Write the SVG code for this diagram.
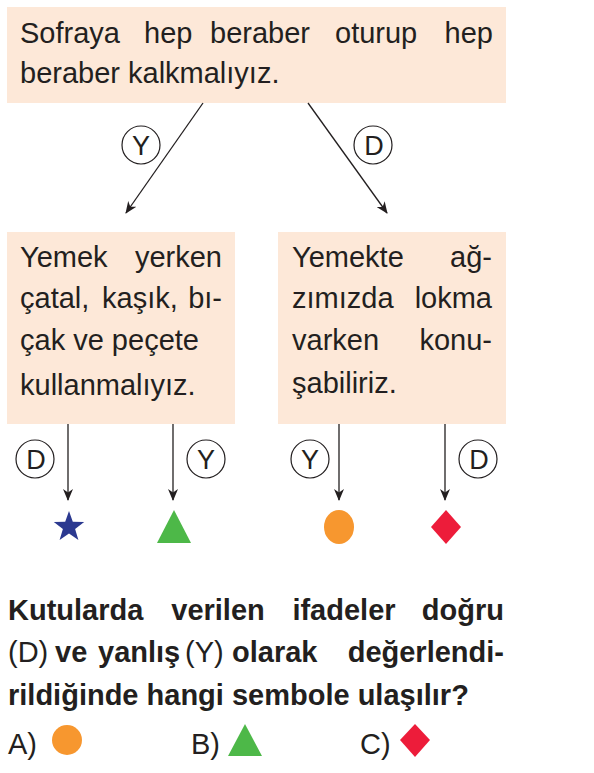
<svg xmlns="http://www.w3.org/2000/svg" width="594" height="773" viewBox="0 0 594 773">
<style>
.box{fill:#fde8d8}
.t{font-family:"Liberation Sans",Arial,sans-serif;font-size:29px;fill:#231f20}
.q{font-family:"Liberation Sans",Arial,sans-serif;font-size:29px;fill:#231f20;font-weight:bold}
.qr{font-weight:normal}
.e{text-anchor:end}
.m{text-anchor:middle}
.lbl{fill:#fff;stroke:#231f20;stroke-width:1.2}
.lt{font-family:"Liberation Sans",Arial,sans-serif;font-size:27px;fill:#231f20;text-anchor:middle}
.ln{stroke:#231f20;stroke-width:1.3;fill:none;marker-end:url(#ah)}
</style>
<defs>
<marker id="ah" viewBox="0 0 12 10" refX="11" refY="5" markerWidth="12" markerHeight="10" markerUnits="userSpaceOnUse" orient="auto">
<path d="M0,0 L12,5 L0,10 L3.5,5 z" fill="#231f20"/>
</marker>
</defs>
<rect width="594" height="773" fill="#fff"/>

<g id="top">
<rect class="box" x="7" y="7" width="499" height="96"/>
<text class="t" y="43"><tspan x="20">Sofraya</tspan><tspan x="144">hep</tspan><tspan x="210">beraber</tspan><tspan x="335">oturup</tspan></text>
<text class="t e" x="493" y="43">hep</text>
<text class="t" x="20" y="83">beraber kalkmalıyız.</text>
</g>

<g id="left">
<rect class="box" x="7" y="232" width="228" height="192"/>
<text class="t" x="20" y="267">Yemek</text>
<text class="t e" x="222" y="267">yerken</text>
<text class="t" y="308"><tspan x="20">çatal,</tspan><tspan x="102">kaşık,</tspan></text>
<text class="t e" x="222" y="308">bı-</text>
<text class="t" x="20" y="350">çak ve peçete</text>
<text class="t" x="20" y="395">kullanmalıyız.</text>
</g>

<g id="right">
<rect class="box" x="278" y="232" width="228" height="192"/>
<text class="t" x="292" y="267">Yemekte</text>
<text class="t e" x="492" y="267">ağ-</text>
<text class="t" x="292" y="308">zımızda</text>
<text class="t e" x="492" y="308">lokma</text>
<text class="t" x="292" y="350">varken</text>
<text class="t e" x="492" y="350">konu-</text>
<text class="t" x="292" y="393">şabiliriz.</text>
</g>

<g id="connectors">
<line class="ln" x1="203" y1="103" x2="126" y2="213"/>
<line class="ln" x1="308" y1="103" x2="387" y2="213"/>
<line class="ln" x1="68" y1="424" x2="68" y2="500"/>
<line class="ln" x1="173" y1="424" x2="173" y2="500"/>
<line class="ln" x1="339" y1="424" x2="339" y2="500"/>
<line class="ln" x1="445" y1="424" x2="445" y2="500"/>
</g>

<g id="labels">
<g id="lbl-y1"><circle class="lbl" cx="141" cy="145" r="19"/><text class="lt" x="141" y="155">Y</text></g>
<g id="lbl-d1"><circle class="lbl" cx="373" cy="145" r="19"/><text class="lt" x="374" y="155">D</text></g>
<g id="lbl-d2"><circle class="lbl" cx="35" cy="459" r="19"/><text class="lt" x="36" y="469">D</text></g>
<g id="lbl-y2"><circle class="lbl" cx="206" cy="459" r="19"/><text class="lt" x="206" y="469">Y</text></g>
<g id="lbl-y3"><circle class="lbl" cx="310" cy="459" r="19"/><text class="lt" x="310" y="469">Y</text></g>
<g id="lbl-d3"><circle class="lbl" cx="478" cy="459" r="19"/><text class="lt" x="479" y="469">D</text></g>
</g>

<g id="symbols">
<polygon id="star" fill="#2b3990" points="69,511 72.8,521.8 84.2,522.1 75.1,529 78.4,539.9 69,533.5 59.6,539.9 62.9,529 53.8,522.1 65.2,521.8"/>
<polygon id="triangle" fill="#4db848" points="174,510 191,543 157,543"/>
<ellipse id="orange" fill="#f7972f" cx="339" cy="527" rx="15" ry="17"/>
<polygon id="diamond" fill="#ed1c3a" points="446,510 461,527 446,544 431,527"/>
</g>

<g id="question">
<text class="q" x="8" y="620">Kutularda</text>
<text class="q m" x="218" y="620">verilen</text>
<text class="q m" x="344" y="620">ifadeler</text>
<text class="q e" x="504" y="620">doğru</text>
<text class="q qr" x="8" y="662">(D)</text>
<text class="q" x="55" y="662">ve</text>
<text class="q" x="98" y="662">yanlış</text>
<text class="q qr" x="185" y="662">(Y)</text>
<text class="q" x="232" y="662">olarak</text>
<text class="q e" x="504" y="662">değerlendi-</text>
<text class="q" x="8" y="705">rildiğinde hangi sembole ulaşılır?</text>
</g>

<g id="answers">
<text class="t" x="8" y="754">A)</text>
<circle fill="#f7972f" cx="67" cy="740" r="15"/>
<text class="t" x="191" y="754">B)</text>
<polygon fill="#4db848" points="245,724 262,756 228,756"/>
<text class="t" x="360" y="754">C)</text>
<polygon fill="#ed1c3a" points="415,724 430,740 415,757 400,740"/>
</g>
</svg>
